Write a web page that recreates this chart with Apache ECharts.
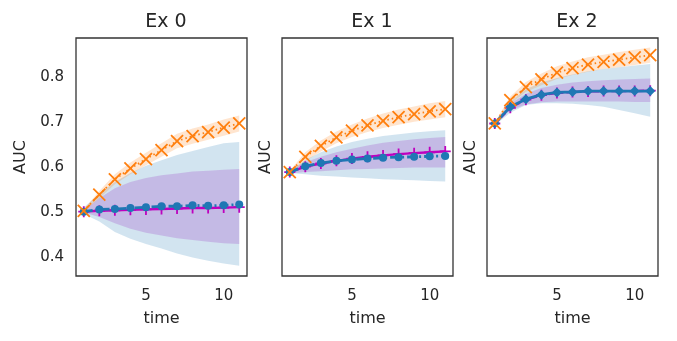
<!DOCTYPE html>
<html>
<head>
<meta charset="utf-8">
<script src="https://cdn.jsdelivr.net/npm/echarts@6/dist/echarts.min.js"></script>
<style>
  html, body { margin: 0; padding: 0; background: #fff; }
  #chart { width: 677px; height: 341px; }
</style>
</head>
<body>
<div id="chart"></div>
<script>
var time = ["1", "2", "3", "4", "5", "6", "7", "8", "9", "10", "11"];
var titles = ["Ex 0", "Ex 1", "Ex 2"];
var xTicks = ["5", "10"];
var yTicks = [0.4, 0.5, 0.6, 0.7, 0.8];

// Ex 0
var ex0Orange = [0.502, 0.538, 0.572, 0.596, 0.617, 0.637, 0.657, 0.668, 0.677, 0.687, 0.696];
var ex0OrangeLo = [0.499, 0.530, 0.561, 0.583, 0.603, 0.622, 0.641, 0.651, 0.660, 0.669, 0.678];
var ex0OrangeHi = [0.505, 0.546, 0.583, 0.609, 0.631, 0.652, 0.673, 0.685, 0.694, 0.705, 0.714];
var ex0Blue = [0.500, 0.505, 0.506, 0.508, 0.510, 0.512, 0.512, 0.514, 0.513, 0.514, 0.516];
var ex0BlueLo = [0.495, 0.478, 0.455, 0.440, 0.428, 0.418, 0.407, 0.398, 0.391, 0.385, 0.380];
var ex0BlueHi = [0.509, 0.540, 0.566, 0.586, 0.602, 0.614, 0.626, 0.635, 0.644, 0.652, 0.655];
var ex0Magenta = [0.500, 0.502, 0.503, 0.504, 0.505, 0.506, 0.507, 0.508, 0.508, 0.509, 0.510];
var ex0PurpleLo = [0.498, 0.488, 0.474, 0.462, 0.453, 0.447, 0.441, 0.437, 0.433, 0.430, 0.428];
var ex0PurpleHi = [0.502, 0.530, 0.552, 0.566, 0.575, 0.581, 0.585, 0.589, 0.591, 0.593, 0.595];

// Ex 1
var ex1Orange = [0.588, 0.622, 0.646, 0.665, 0.680, 0.692, 0.702, 0.710, 0.717, 0.723, 0.728];
var ex1OrangeLo = [0.585, 0.612, 0.634, 0.652, 0.666, 0.677, 0.686, 0.693, 0.700, 0.705, 0.710];
var ex1OrangeHi = [0.591, 0.632, 0.658, 0.678, 0.694, 0.707, 0.718, 0.727, 0.734, 0.741, 0.746];
var ex1Blue = [0.588, 0.601, 0.608, 0.613, 0.616, 0.618, 0.620, 0.621, 0.622, 0.623, 0.624];
var ex1BlueLo = [0.586, 0.583, 0.580, 0.578, 0.576, 0.574, 0.572, 0.571, 0.570, 0.568, 0.567];
var ex1BlueHi = [0.590, 0.615, 0.632, 0.645, 0.655, 0.662, 0.668, 0.672, 0.676, 0.679, 0.681];
var ex1Magenta = [0.588, 0.600, 0.607, 0.613, 0.618, 0.622, 0.625, 0.628, 0.630, 0.632, 0.634];
var ex1PurpleLo = [0.585, 0.588, 0.590, 0.592, 0.594, 0.595, 0.596, 0.597, 0.598, 0.598, 0.598];
var ex1PurpleHi = [0.592, 0.610, 0.622, 0.632, 0.640, 0.647, 0.653, 0.657, 0.661, 0.664, 0.666];

// Ex 2
var ex2Orange = [0.696, 0.748, 0.777, 0.794, 0.809, 0.819, 0.827, 0.833, 0.838, 0.843, 0.848];
var ex2OrangeLo = [0.693, 0.740, 0.766, 0.781, 0.795, 0.804, 0.811, 0.817, 0.821, 0.826, 0.831];
var ex2OrangeHi = [0.699, 0.756, 0.788, 0.807, 0.823, 0.834, 0.843, 0.849, 0.855, 0.860, 0.865];
var ex2Blue = [0.696, 0.733, 0.750, 0.760, 0.765, 0.766, 0.768, 0.768, 0.768, 0.768, 0.768];
var ex2BlueLo = [0.692, 0.720, 0.737, 0.741, 0.741, 0.740, 0.737, 0.733, 0.726, 0.719, 0.711];
var ex2BlueHi = [0.700, 0.745, 0.772, 0.787, 0.797, 0.805, 0.812, 0.817, 0.821, 0.825, 0.828];
var ex2Magenta = [0.696, 0.731, 0.749, 0.759, 0.764, 0.766, 0.767, 0.768, 0.768, 0.768, 0.769];
var ex2PurpleLo = [0.694, 0.725, 0.738, 0.743, 0.745, 0.745, 0.745, 0.745, 0.745, 0.744, 0.744];
var ex2PurpleHi = [0.698, 0.740, 0.762, 0.775, 0.782, 0.787, 0.790, 0.792, 0.794, 0.795, 0.796];

var panels = [
  { orange: ex0Orange, orangeLo: ex0OrangeLo, orangeHi: ex0OrangeHi, blue: ex0Blue, blueLo: ex0BlueLo, blueHi: ex0BlueHi, magenta: ex0Magenta, purpleLo: ex0PurpleLo, purpleHi: ex0PurpleHi },
  { orange: ex1Orange, orangeLo: ex1OrangeLo, orangeHi: ex1OrangeHi, blue: ex1Blue, blueLo: ex1BlueLo, blueHi: ex1BlueHi, magenta: ex1Magenta, purpleLo: ex1PurpleLo, purpleHi: ex1PurpleHi },
  { orange: ex2Orange, orangeLo: ex2OrangeLo, orangeHi: ex2OrangeHi, blue: ex2Blue, blueLo: ex2BlueLo, blueHi: ex2BlueHi, magenta: ex2Magenta, purpleLo: ex2PurpleLo, purpleHi: ex2PurpleHi },
];

var ORANGE = "#ff7f0e";
var BLUE = "#1f77b4";
var MAGENTA = "#bf00bf";
var TEXT = "#262626";
var FONT = "DejaVu Sans";
var CROSS = "path://M0,0L10,10M10,0L0,10";
var PLUS = "path://M5,0L5,10M0,5L10,5";

var lefts = [76, 282, 487];
var nameGaps = [47, 8, 8];

function diff(hi, lo) {
  return hi.map(function (v, i) {
    return v - lo[i];
  });
}

// fill_between done as an invisible lower line plus a stacked (hi - lo) area
function band(idx, lo, hi, color, key) {
  var stack = "band" + idx + key;
  var common = {
    type: "line",
    xAxisIndex: idx,
    yAxisIndex: idx,
    stack: stack,
    showSymbol: false,
    lineStyle: { width: 0, opacity: 0 },
    silent: true,
    z: 1,
  };
  return [
    Object.assign({}, common, { data: lo }),
    Object.assign({}, common, {
      data: diff(hi, lo),
      areaStyle: { color: color, opacity: 1 },
    }),
  ];
}

function processSeries() {
  var seriesList = [];
  panels.forEach(function (p, i) {
    seriesList = seriesList.concat(band(i, p.blueLo, p.blueHi, "rgba(31,119,180,0.2)", "b"));
    seriesList = seriesList.concat(band(i, p.purpleLo, p.purpleHi, "rgba(160,80,200,0.28)", "p"));
    seriesList = seriesList.concat(band(i, p.orangeLo, p.orangeHi, "rgba(255,127,14,0.2)", "o"));

    seriesList.push({
      type: "line",
      xAxisIndex: i,
      yAxisIndex: i,
      data: p.magenta,
      symbol: PLUS,
      symbolSize: 11,
      showAllSymbol: true,
      color: MAGENTA,
      itemStyle: { color: MAGENTA, borderColor: MAGENTA, borderWidth: 1.8 },
      lineStyle: { width: 2.4, type: i === 2 ? [6, 3] : "solid" },
      z: 3,
    });
    seriesList.push({
      type: "line",
      xAxisIndex: i,
      yAxisIndex: i,
      data: p.blue,
      symbol: i === 2 ? "diamond" : "circle",
      symbolSize: i === 2 ? 10 : 8,
      showAllSymbol: true,
      color: BLUE,
      itemStyle: { color: BLUE, borderWidth: 0 },
      lineStyle: { width: 2.8, type: i === 2 ? "solid" : [9, 3, 2, 3] },
      z: 4,
    });
    seriesList.push({
      type: "line",
      xAxisIndex: i,
      yAxisIndex: i,
      data: p.orange,
      symbol: CROSS,
      symbolSize: 12,
      showAllSymbol: true,
      color: ORANGE,
      itemStyle: { color: ORANGE, borderColor: ORANGE, borderWidth: 1.8 },
      lineStyle: { width: 1.8, type: [1.5, 3] },
      z: 5,
    });
  });
  return seriesList;
}

var myChart = echarts.init(document.getElementById("chart"));

var option = {
  animation: false,
  backgroundColor: "#fff",
  textStyle: { fontFamily: FONT },
  title: titles.map(function (t, i) {
    return {
      text: t,
      left: lefts[i] + 85,
      textAlign: "center",
      top: 8,
      textStyle: { fontFamily: FONT, fontSize: 19, fontWeight: "normal", color: TEXT },
    };
  }),
  grid: lefts.map(function (l) {
    return {
      left: l,
      top: 38,
      width: 171,
      height: 238,
      show: true,
      borderColor: "#333",
      borderWidth: 1.3,
      backgroundColor: "transparent",
    };
  }),
  xAxis: lefts.map(function (l, i) {
    return {
      type: "category",
      gridIndex: i,
      data: time,
      boundaryGap: true,
      name: "time",
      nameLocation: "middle",
      nameGap: 35,
      nameTextStyle: { fontFamily: FONT, fontSize: 16, color: TEXT },
      axisLine: { show: false },
      axisTick: { show: false },
      splitLine: { show: false },
      axisLabel: {
        interval: function (index, value) {
          return xTicks.indexOf(value) >= 0;
        },
        margin: 13,
        fontFamily: FONT,
        fontSize: 15,
        color: TEXT,
      },
    };
  }),
  yAxis: lefts.map(function (l, i) {
    return {
      type: "value",
      gridIndex: i,
      min: 0.357,
      max: 0.886,
      name: "AUC",
      nameLocation: "middle",
      nameRotate: 90,
      nameGap: nameGaps[i],
      nameTextStyle: { fontFamily: FONT, fontSize: 16, color: TEXT },
      axisLine: { show: false },
      axisTick: { show: false },
      splitLine: { show: false },
      axisLabel: {
        show: i === 0,
        customValues: yTicks,
        margin: 12,
        fontFamily: FONT,
        fontSize: 15,
        color: TEXT,
        formatter: function (v) {
          return v.toFixed(1);
        },
      },
    };
  }),
  series: processSeries(),
};

myChart.setOption(option);
</script>
</body>
</html>
